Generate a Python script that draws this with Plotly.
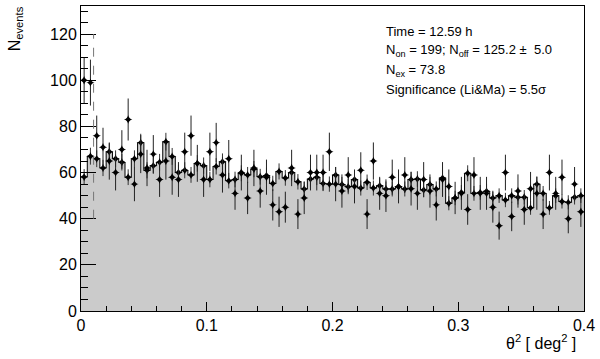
import numpy as np
import plotly.graph_objects as go

# theta^2 histogram, 80 bins of 0.005 deg^2 from 0 to 0.4
bin_width = 0.005
n_bins = 80

on_counts = [100, 99, 76, 71, 65, 60, 70, 83, 55, 68,
             62, 68, 57, 65, 58, 57, 69, 76, 64, 57,
             69, 73, 59, 66, 51, 60, 49, 62, 52, 58,
             46, 43, 45, 62, 42, 49, 60, 60, 60, 69,
             55, 52, 59, 54, 61, 42, 65, 51, 50, 58,
             54, 59, 53, 51, 57, 52, 46, 57, 54, 49,
             51, 44, 59, 51, 51, 45, 37, 60, 41, 52,
             44, 53, 51, 42, 60, 51, 58, 40, 55, 43]

off_norm = [58.1, 67.1, 66.0, 62.0, 69.0, 66.0, 64.5, 58.0, 66.0, 73.0,
            61.0, 63.0, 64.5, 73.4, 67.0, 60.0, 61.0, 59.0, 64.0, 63.0,
            57.0, 62.7, 64.7, 56.5, 57.0, 59.7, 59.0, 61.5, 58.2, 58.7,
            55.3, 60.5, 57.7, 60.0, 56.0, 52.9, 57.2, 58.0, 55.3, 55.0,
            59.0, 54.8, 53.9, 57.0, 53.3, 55.8, 53.3, 54.3, 52.9, 52.9,
            53.9, 52.9, 57.0, 57.2, 52.5, 54.8, 52.9, 57.7, 46.7, 49.0,
            51.4, 59.7, 51.0, 51.4, 51.9, 49.0, 50.0, 48.1, 50.0, 49.3,
            49.3, 44.7, 55.0, 51.0, 44.7, 50.0, 47.5, 47.1, 49.3, 50.0]

off_scale = 0.2  # on/off exposure ratio (gives 125.2 +- 5.0)
theta2_cut = 0.01

x_tick_vals = [0, 0.1, 0.2, 0.3, 0.4]
x_tick_text = ["0", "0.1", "0.2", "0.3", "0.4"]

info_lines = ["Time = 12.59 h",
              "N<sub>on</sub> = 199; N<sub>off</sub> = 125.2 \u00b1  5.0",
              "N<sub>ex</sub> = 73.8",
              "Significance (Li&amp;Ma) = 5.5\u03c3"]

on = np.array(on_counts, dtype=float)
off = np.array(off_norm, dtype=float)
centers = (np.arange(n_bins) + 0.5) * bin_width
edges = np.arange(n_bins + 1) * bin_width
on_err = np.sqrt(on)
off_err = np.sqrt(off_scale * off)

FONT = "Liberation Sans, Arial, Helvetica, sans-serif"
GRAY = "#cbcbcb"

fig = go.Figure()
fig.add_trace(go.Bar(x=centers, y=off, width=bin_width,
                     marker=dict(color=GRAY, line=dict(width=0)),
                     hoverinfo="skip", showlegend=False))
fig.add_trace(go.Scatter(x=edges, y=np.append(off, off[-1]), mode="lines",
                         line=dict(color="black", width=1, shape="hv"),
                         hoverinfo="skip", showlegend=False))
fig.add_trace(go.Scatter(x=centers, y=off, mode="markers",
                         marker=dict(symbol="star-diamond", size=6, color="black"),
                         error_y=dict(type="data", array=off_err, width=0,
                                      color="#333333", thickness=1),
                         showlegend=False))
fig.add_trace(go.Scatter(x=centers, y=on, mode="markers",
                         marker=dict(symbol="star-diamond", size=6, color="black"),
                         error_y=dict(type="data", array=on_err, width=0,
                                      color="#222222", thickness=1),
                         showlegend=False))

fig.add_shape(type="line", x0=theta2_cut, x1=theta2_cut, y0=40, y1=120,
              xref="x", yref="y", line=dict(color="#777777", width=1, dash="dash"))

for txt, yp in zip(info_lines, [0.918, 0.853, 0.788, 0.725]):
    fig.add_annotation(text=txt, x=0.602, y=yp, xref="paper", yref="paper",
                       xanchor="left", yanchor="middle", showarrow=False,
                       font=dict(family=FONT, size=13, color="black"))

fig.add_annotation(text="N<sub>events</sub>", x=-0.13, y=1.006, xref="paper", yref="paper",
                   xanchor="center", yanchor="top", textangle=-90, showarrow=False,
                   font=dict(family=FONT, size=16, color="black"))
fig.add_annotation(text="\u03b8<sup>2</sup> [ deg<sup>2</sup> ]", x=0.988, y=-0.101,
                   xref="paper", yref="paper", xanchor="right", yanchor="middle",
                   showarrow=False, font=dict(family=FONT, size=16, color="black"))

fig.update_layout(
    width=600, height=359,
    margin=dict(l=81, r=11, t=5, b=48),
    paper_bgcolor="white", plot_bgcolor="white",
    bargap=0, showlegend=False,
    font=dict(family=FONT, size=16, color="black"),
    xaxis=dict(range=[0, 0.4], showgrid=False, zeroline=False,
               showline=True, linecolor="black", linewidth=1, mirror=True,
               ticks="inside", ticklen=9, tickcolor="black",
               tickvals=x_tick_vals, ticktext=x_tick_text,
               ticklabeloverflow="allow",
               minor=dict(dtick=0.02, ticks="inside", ticklen=5, tickcolor="black"),
               tickfont=dict(family=FONT, size=16)),
    yaxis=dict(range=[0, 132.2], showgrid=False, zeroline=False,
               showline=True, linecolor="black", linewidth=1, mirror=True,
               ticks="inside", ticklen=15, tickcolor="black", dtick=20,
               minor=dict(dtick=5, ticks="inside", ticklen=7, tickcolor="black"),
               tickfont=dict(family=FONT, size=16)),
)

fig.write_html("out.html", config={"displayModeBar": False},
               post_script="document.body.style.margin='0px';")
